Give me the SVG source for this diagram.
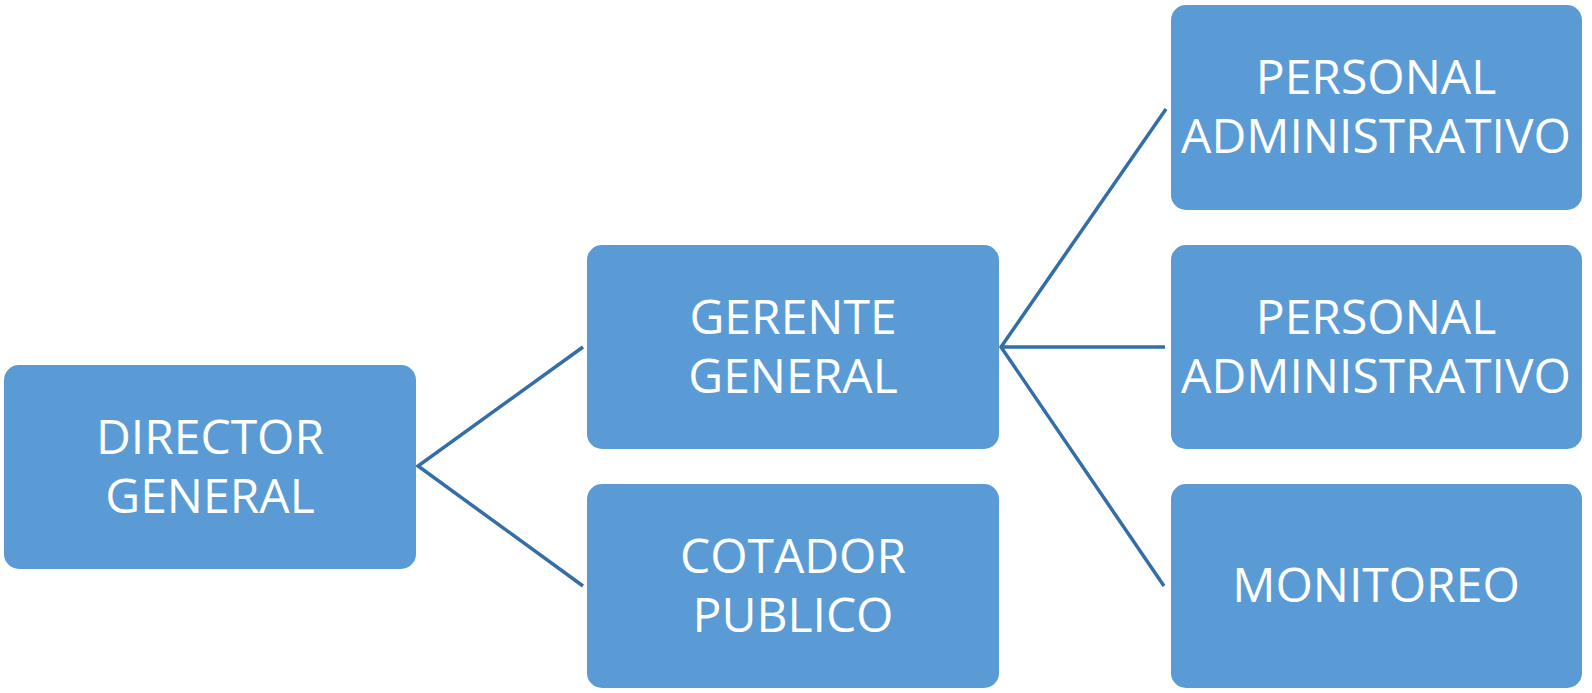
<svg xmlns="http://www.w3.org/2000/svg" width="1592" height="693" viewBox="0 0 1592 693">
<style>
.box{fill:#5b9bd5;}
.t{font-family:"Open Sans","Liberation Sans",sans-serif;font-size:48px;fill:#ffffff;text-anchor:middle;}
.c{stroke:#336ea8;stroke-width:3.5;fill:none;stroke-linejoin:miter;}
</style>
<rect width="1592" height="693" fill="#ffffff"/>
<g id="connectors">
<polyline class="c" points="583,347 418,466 583,586"/>
<polyline class="c" points="1166,109 1001,347 1164,586"/>
<line class="c" x1="1001" y1="347" x2="1165" y2="347"/>
</g>
<g id="director">
<rect class="box" x="4" y="365" width="412" height="204" rx="15"/>
<text class="t" x="210" y="454">DIRECTOR</text>
<text class="t" x="210" y="513">GENERAL</text>
</g>
<g id="gerente">
<rect class="box" x="587" y="245" width="412" height="204" rx="15"/>
<text class="t" x="793" y="334">GERENTE</text>
<text class="t" x="793" y="393">GENERAL</text>
</g>
<g id="cotador">
<rect class="box" x="587" y="484" width="412" height="204" rx="15"/>
<text class="t" x="793" y="573">COTADOR</text>
<text class="t" x="793" y="632">PUBLICO</text>
</g>
<g id="personal1">
<rect class="box" x="1171" y="5" width="411" height="205" rx="15"/>
<text class="t" x="1376" y="94">PERSONAL</text>
<text class="t" x="1376" y="153">ADMINISTRATIVO</text>
</g>
<g id="personal2">
<rect class="box" x="1171" y="245" width="411" height="204" rx="15"/>
<text class="t" x="1376" y="334">PERSONAL</text>
<text class="t" x="1376" y="393">ADMINISTRATIVO</text>
</g>
<g id="monitoreo">
<rect class="box" x="1171" y="484" width="411" height="204" rx="15"/>
<text class="t" x="1376" y="602">MONITOREO</text>
</g>
</svg>
